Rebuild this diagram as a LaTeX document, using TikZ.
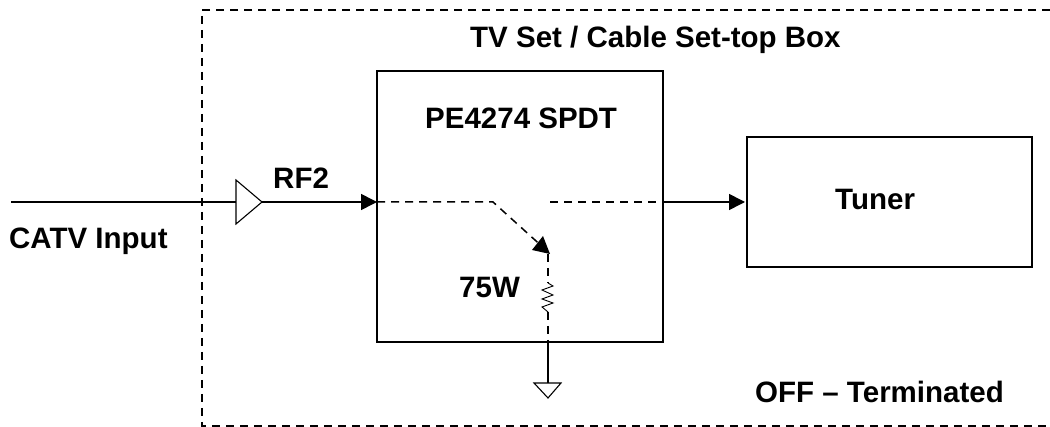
\documentclass[tikz,border=0pt]{standalone}
\usepackage{fontspec}
\setmainfont{Liberation Sans}
\usetikzlibrary{arrows.meta}
\tikzset{
  x=1pt,y=-1pt,
  lbl/.style={font=\bfseries\fontsize{29.5}{35}\selectfont,inner sep=0pt,anchor=base west,text=black},
  wire/.style={line width=1.6pt,black},
  thinwire/.style={line width=1.1pt,black},
  dashwire/.style={line width=1.5pt,dash pattern=on 8pt off 6pt},
  framedash/.style={line width=1.4pt,dash pattern=on 8pt off 6pt},
  tip/.style={-{Triangle[length=16pt,width=16pt]}}
}
\begin{document}
\begin{tikzpicture}
\useasboundingbox (0,0) rectangle (1050,427);
\draw[framedash] (1050,10) -- (202,10) -- (202,426) -- (1050,426);
\draw[wire] (377,71) rectangle (663,342);
\draw[wire] (747,137) rectangle (1032,267);
\coordinate (inL) at (11,202);
\coordinate (ampL) at (236,202);
\coordinate (ampR) at (262,202);
\coordinate (swIn) at (377,202);
\coordinate (swOut) at (663,202);
\coordinate (tun) at (745,202);
\draw[wire] (inL) -- (ampL);
\draw[thinwire,line join=miter] (ampL |- 0,180) -- (ampR) -- (ampL |- 0,224) -- cycle;
\draw[wire,tip] (ampR) -- (swIn);
\draw[wire,tip] (swOut) -- (tun);
\draw[dashwire] (swIn) -- (493,202) -- (546,250);
\path[fill=black] (550,254) -- (532,250) -- (543,236) -- cycle;
\draw[dashwire] (550,202) -- (swOut);
\draw[dashwire] (548,254) -- (548,283);
\draw[line width=.9pt] (548,283) -- (553,286) -- (542,290) -- (553,295) -- (542,299) -- (553,303) -- (542,307) -- (548,312);
\draw[dashwire] (548,312) -- (548,342);
\draw[wire] (548,342) -- (548,383);
\draw[thinwire] (534,383) -- (561,383) -- (548,398) -- cycle;
\node[lbl] (t1) at (470,48) {TV Set / Cable Set-top Box};
\node[lbl] (t2) at (425,129) {PE4274 SPDT};
\node[lbl] (t3) at (273,189) {RF2};
\node[lbl] (t4) at (9,249) {CATV Input};
\node[lbl] (t5) at (835,210) {Tuner};
\node[lbl] (t6) at (459,298) {75W};
\node[lbl] (t7) at (755,403) {OFF – Terminated};
\end{tikzpicture}
\end{document}
